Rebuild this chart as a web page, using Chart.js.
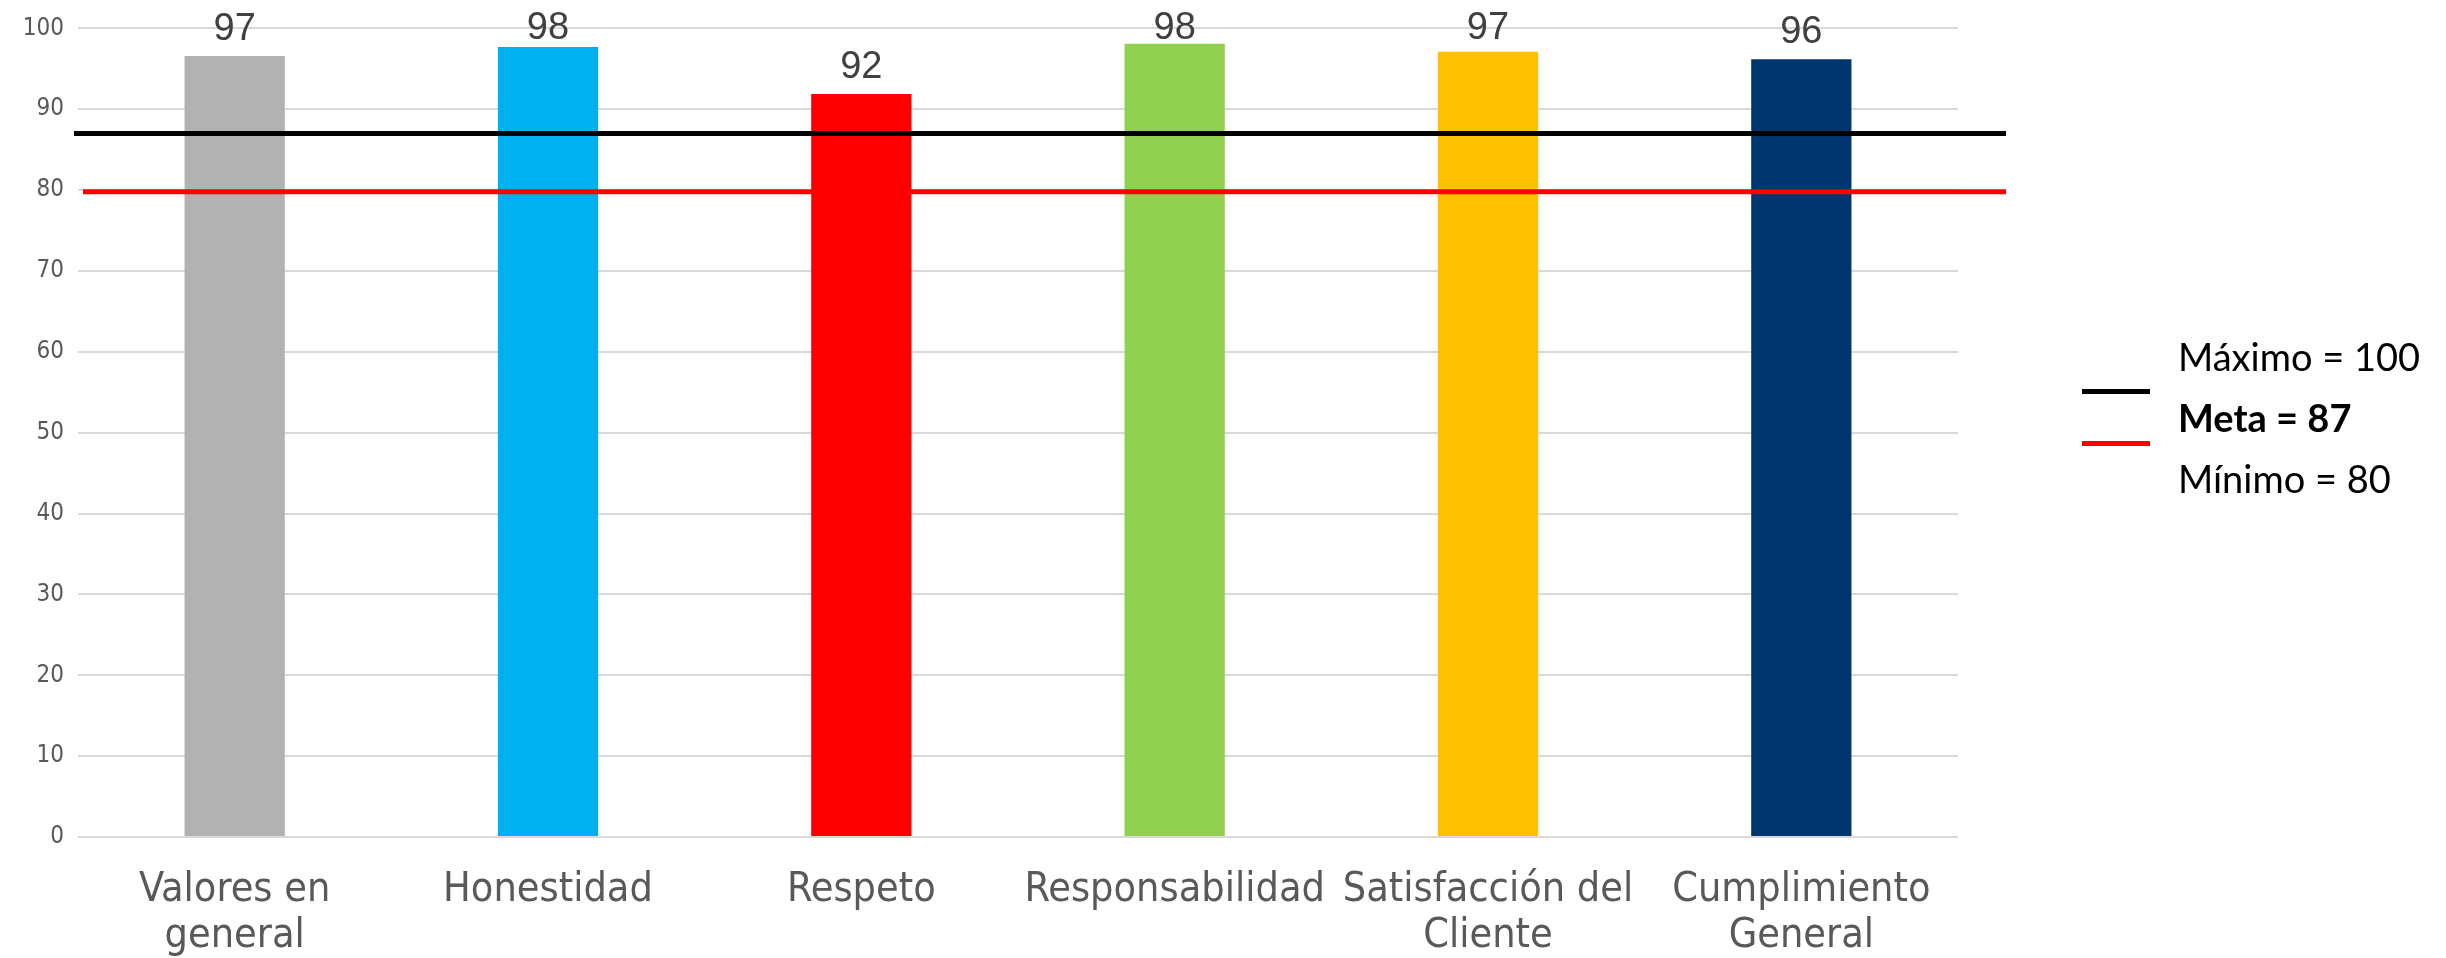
<!DOCTYPE html>
<html>
<head>
<meta charset="utf-8">
<script src="https://cdn.jsdelivr.net/npm/chart.js@4"></script>
<style>
    html, body { margin: 0; padding: 0; background: #fff; }
    #wrap { position: relative; width: 2446px; height: 958px; }
    #legend { position: absolute; left: 2090px; top: 326px; font-family: Lato, sans-serif; font-size: 38px; color: #000; }
    #legend .row { position: relative; height: 61px; line-height: 61px; padding-left: 88px; white-space: nowrap; }
    #legend .swatch { position: absolute; left: -8px; width: 68px; height: 5px; }
</style>
</head>
<body>
<div id="wrap">
    <canvas id="barChart"></canvas>
    <div id="legend">
        <div class="row">Máximo = 100</div>
        <div class="row"><b>Meta = 87</b><span class="swatch" style="background:#000; top:2px"></span></div>
        <div class="row">Mínimo = 80<span class="swatch" style="background:#ff0000; top:-7px"></span></div>
    </div>
</div>
<script>
// chart data
const categories = [['Valores en', 'general'], 'Honestidad', 'Respeto', 'Responsabilidad', ['Satisfacción del', 'Cliente'], ['Cumplimiento', 'General']];
const scores = [96.6, 97.7, 91.9, 98.1, 97.1, 96.2];
const scoreLabels = [97, 98, 92, 98, 97, 96];
const barColors = ['#b2b2b2', '#00b0f0', '#ff0000', '#92d050', '#ffc000', '#00366f'];
const metaValue = 87;
const minimoValue = 79.8;
const yTicks = [0, 10, 20, 30, 40, 50, 60, 70, 80, 90, 100];

const narrowFont = "'Liberation Sans Narrow', 'Arial Narrow', 'DejaVu Sans Condensed', sans-serif";

// reference lines (meta / minimo) drawn through the y scale
const refLines = {
    id: 'refLines',
    afterDatasetsDraw(chart) {
        const { ctx, chartArea, scales } = chart;
        const lines = [
            { value: metaValue, color: '#000000', from: chartArea.left - 4 },
            { value: minimoValue, color: '#ff0000', from: chartArea.left + 5 }
        ];
        ctx.save();
        ctx.lineWidth = 5;
        lines.forEach((l) => {
            const y = scales.y.getPixelForValue(l.value);
            ctx.strokeStyle = l.color;
            ctx.beginPath();
            ctx.moveTo(l.from, y);
            ctx.lineTo(chartArea.right + 48, y);
            ctx.stroke();
        });
        ctx.restore();
    }
};

// value labels above bars (kept inside the top of the plot, like the original)
const barLabels = {
    id: 'barLabels',
    afterDatasetsDraw(chart) {
        const { ctx, chartArea } = chart;
        const meta = chart.getDatasetMeta(0);
        ctx.save();
        ctx.font = "38px 'Liberation Sans', Arial, sans-serif";
        ctx.fillStyle = '#404040';
        ctx.textAlign = 'center';
        ctx.textBaseline = 'alphabetic';
        meta.data.forEach((bar, i) => {
            const y = Math.max(bar.y - 16, chartArea.top + 11);
            ctx.fillText(String(scoreLabels[i]), bar.x, y);
        });
        ctx.restore();
    }
};

document.addEventListener('DOMContentLoaded', () => {
    const ctx = document.getElementById('barChart').getContext('2d');
    new Chart(ctx, {
        type: 'bar',
        data: {
            labels: categories,
            datasets: [{
                data: scores,
                backgroundColor: barColors,
                borderWidth: 0,
                categoryPercentage: 1,
                barPercentage: 0.32
            }]
        },
        options: {
            responsive: true,
            maintainAspectRatio: false,
            animation: false,
            layout: { padding: { top: 22, right: 488, left: 0, bottom: 0 } },
            plugins: {
                legend: { display: false },
                tooltip: { enabled: false }
            },
            scales: {
                x: {
                    grid: { display: false },
                    border: { display: false },
                    ticks: {
                        color: '#595959',
                        font: { family: narrowFont, size: 41, lineHeight: 1.12 },
                        maxRotation: 0,
                        autoSkip: false,
                        padding: 22
                    },
                    afterFit(scale) { scale.height = 121; }
                },
                y: {
                    min: 0,
                    max: 100,
                    afterBuildTicks(scale) { scale.ticks = yTicks.map((v) => ({ value: v })); },
                    grid: { color: '#d9d9d9', lineWidth: 2, drawTicks: false },
                    border: { display: false },
                    ticks: {
                        color: '#595959',
                        font: { family: narrowFont, size: 24 },
                        padding: 14
                    },
                    afterFit(scale) { scale.width = 78; }
                }
            }
        },
        plugins: [refLines, barLabels]
    });
});
</script>
</body>
</html>
